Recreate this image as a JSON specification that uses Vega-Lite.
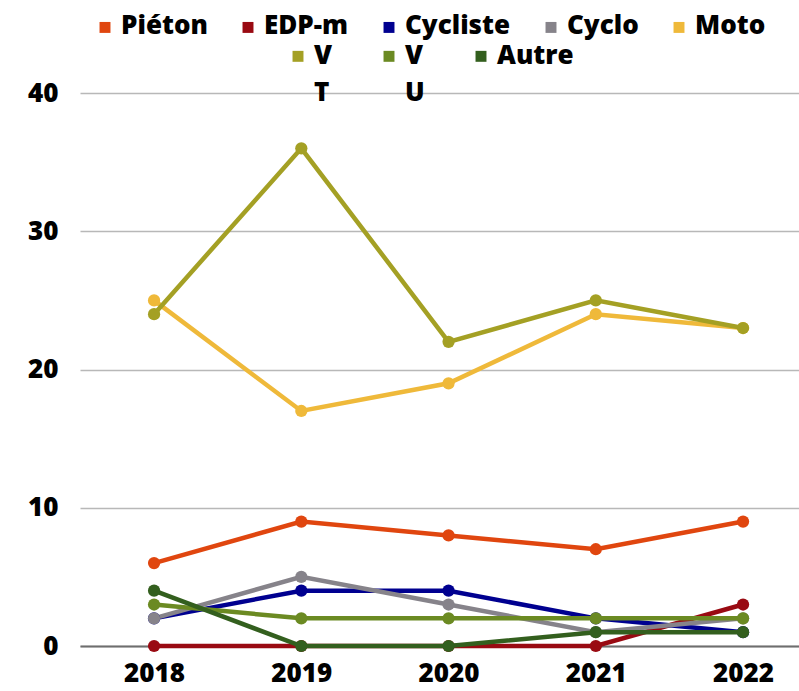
{
  "$schema": "https://vega.github.io/schema/vega-lite/v6.json",
  "width": 719,
  "height": 553,
  "autosize": {"type": "none"},
  "padding": {"left": 80, "top": 93, "right": 0, "bottom": 45},
  "config": {
    "font": "Open Sans",
    "view": {"stroke": null},
    "style": {"guide-label": {"lineHeight": 37}}
  },
  "datasets": {
    "a": [
      {"annee": 2018, "serie": "Piéton", "n": 6},
      {"annee": 2019, "serie": "Piéton", "n": 9},
      {"annee": 2020, "serie": "Piéton", "n": 8},
      {"annee": 2021, "serie": "Piéton", "n": 7},
      {"annee": 2022, "serie": "Piéton", "n": 9},
      {"annee": 2018, "serie": "EDP-m", "n": 0},
      {"annee": 2019, "serie": "EDP-m", "n": 0},
      {"annee": 2020, "serie": "EDP-m", "n": 0},
      {"annee": 2021, "serie": "EDP-m", "n": 0},
      {"annee": 2022, "serie": "EDP-m", "n": 3},
      {"annee": 2018, "serie": "Cycliste", "n": 2},
      {"annee": 2019, "serie": "Cycliste", "n": 4},
      {"annee": 2020, "serie": "Cycliste", "n": 4},
      {"annee": 2021, "serie": "Cycliste", "n": 2},
      {"annee": 2022, "serie": "Cycliste", "n": 1},
      {"annee": 2018, "serie": "Cyclo", "n": 2},
      {"annee": 2019, "serie": "Cyclo", "n": 5},
      {"annee": 2020, "serie": "Cyclo", "n": 3},
      {"annee": 2021, "serie": "Cyclo", "n": 1},
      {"annee": 2022, "serie": "Cyclo", "n": 2},
      {"annee": 2018, "serie": "Moto", "n": 25},
      {"annee": 2019, "serie": "Moto", "n": 17},
      {"annee": 2020, "serie": "Moto", "n": 19},
      {"annee": 2021, "serie": "Moto", "n": 24},
      {"annee": 2022, "serie": "Moto", "n": 23}
    ],
    "b": [
      {"annee": 2018, "serie": "VT", "n": 24},
      {"annee": 2019, "serie": "VT", "n": 36},
      {"annee": 2020, "serie": "VT", "n": 22},
      {"annee": 2021, "serie": "VT", "n": 25},
      {"annee": 2022, "serie": "VT", "n": 23},
      {"annee": 2018, "serie": "VU", "n": 3},
      {"annee": 2019, "serie": "VU", "n": 2},
      {"annee": 2020, "serie": "VU", "n": 2},
      {"annee": 2021, "serie": "VU", "n": 2},
      {"annee": 2022, "serie": "VU", "n": 2},
      {"annee": 2018, "serie": "Autre", "n": 4},
      {"annee": 2019, "serie": "Autre", "n": 0},
      {"annee": 2020, "serie": "Autre", "n": 0},
      {"annee": 2021, "serie": "Autre", "n": 1},
      {"annee": 2022, "serie": "Autre", "n": 1}
    ]
  },
  "encoding": {
    "x": {
      "field": "annee",
      "type": "quantitative",
      "scale": {"domain": [2017.497, 2022.38], "nice": false, "zero": false},
      "axis": {
        "values": [2018, 2019, 2020, 2021, 2022],
        "format": "d",
        "title": null,
        "grid": false,
        "ticks": false,
        "domain": true,
        "domainColor": "#6e6e6e",
        "domainWidth": 2,
        "labelFontSize": 26,
        "labelFontWeight": 800,
        "labelColor": "#000000",
        "labelPadding": 14
      }
    },
    "y": {
      "field": "n",
      "type": "quantitative",
      "scale": {"domain": [0, 40], "nice": false},
      "axis": {
        "values": [0, 10, 20, 30, 40],
        "title": null,
        "domain": false,
        "ticks": false,
        "gridColor": "#b8b8b8",
        "gridWidth": 1.5,
        "labelFontSize": 26,
        "labelFontWeight": 800,
        "labelColor": "#000000",
        "labelPadding": 22
      }
    }
  },
  "layer": [
    {
      "data": {"name": "a"},
      "mark": {"type": "line", "strokeWidth": 4.5, "point": {"size": 150, "filled": true, "opacity": 1}},
      "encoding": {
        "color": {
          "field": "serie",
          "type": "nominal",
          "scale": {
            "domain": ["Piéton", "EDP-m", "Cycliste", "Cyclo", "Moto"],
            "range": ["#e0460f", "#990a12", "#000090", "#86838a", "#efb93a"]
          },
          "legend": {
            "orient": "none",
            "legendX": 12,
            "legendY": -72,
            "direction": "horizontal",
            "title": null,
            "symbolType": "M-1,-2.2H1V-0.2H-1Z",
            "symbolSize": 120,
            "symbolStrokeWidth": 0,
            "labelFontSize": 26,
            "labelFontWeight": 800,
            "labelColor": "#000000",
            "labelBaseline": "alphabetic",
            "columnPadding": 27,
            "labelOffset": 3,
            "padding": 0,
            "labelLimit": 0
          }
        }
      }
    },
    {
      "data": {"name": "b"},
      "mark": {"type": "line", "strokeWidth": 4.5, "point": {"size": 150, "filled": true, "opacity": 1}},
      "encoding": {
        "color": {
          "field": "serie",
          "type": "nominal",
          "scale": {
            "domain": ["VT", "VU", "Autre"],
            "range": ["#a4a024", "#6b8a22", "#335f1e"]
          },
          "legend": {
            "orient": "none",
            "legendX": 205,
            "legendY": -42,
            "direction": "horizontal",
            "title": null,
            "symbolType": "M-1,-2.4H1V-0.4H-1Z",
            "symbolSize": 120,
            "symbolStrokeWidth": 0,
            "labelFontSize": 26,
            "labelFontWeight": 800,
            "labelColor": "#000000",
            "labelBaseline": "alphabetic",
            "labelExpr": "datum.label === 'VT' ? ['V', 'T'] : datum.label === 'VU' ? ['V', 'U'] : [datum.label, ' ']",
            "columnPadding": 43,
            "labelOffset": 3,
            "padding": 0,
            "labelLimit": 0
          }
        }
      }
    }
  ],
  "resolve": {"scale": {"color": "independent"}, "legend": {"color": "independent"}}
}
